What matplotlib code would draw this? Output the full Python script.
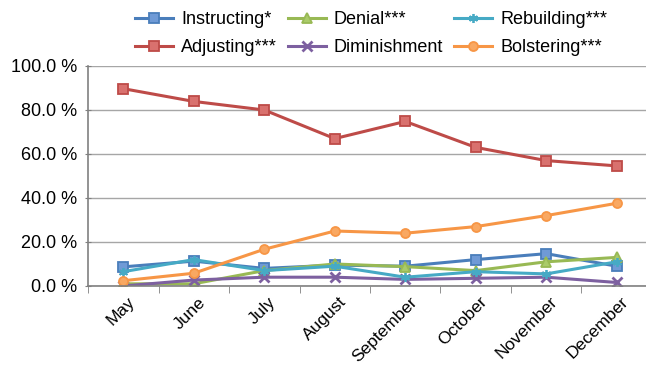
import matplotlib
matplotlib.use("Agg")
import matplotlib.pyplot as plt
import matplotlib.transforms as mtransforms
from matplotlib.ticker import FixedLocator, NullFormatter

plt.rcParams["font.family"] = ["Liberation Sans", "DejaVu Sans"]

# data (percent)
months = ["May", "June", "July", "August", "September", "October", "November", "December"]
instructing = [8.7, 11.3, 8.0, 9.5, 9.0, 12.0, 14.7, 9.0]
adjusting = [89.7, 83.9, 80.0, 67.0, 74.8, 63.0, 57.0, 54.6]
denial = [1.0, 1.0, 7.0, 10.0, 8.8, 7.0, 11.0, 13.0]
diminishment = [0.0, 2.7, 4.0, 4.0, 3.0, 3.5, 4.0, 1.6]
rebuilding = [6.5, 12.0, 7.0, 9.0, 4.0, 6.5, 5.5, 11.0]
bolstering = [2.4, 5.8, 16.7, 25.0, 24.0, 27.0, 32.0, 37.6]

# name, values, line colour, marker fill, marker
series = [
    ("Instructing*", instructing, "#4a7ebb", "#6f9ad6", "s"),
    ("Adjusting***", adjusting, "#be4b48", "#d9716e", "s"),
    ("Denial***", denial, "#98b954", "#aacb6a", "^"),
    ("Diminishment", diminishment, "#7d60a0", "#7d60a0", "x"),
    ("Rebuilding***", rebuilding, "#46aac5", "#46aac5", (6, 2, 0)),
    ("Bolstering***", bolstering, "#f79646", "#f9a862", "o"),
]

fig = plt.figure(figsize=(6.46, 3.68), dpi=100)
ax = fig.add_axes([88 / 646, 1 - 286 / 368, (652 - 88) / 646, 220 / 368])

x = list(range(len(months)))
for name, vals, color, fill, marker in series:
    ax.plot(x, vals, color=color, lw=2.2, marker=marker, ms=6.5,
            mfc=fill, mec=color, mew=1.3 if marker != "x" else 2, label=name)

ax.set_xlim(-0.5, len(months) - 0.5)
ax.set_ylim(0, 100)
ax.set_yticks([0, 20, 40, 60, 80, 100])
ax.set_yticklabels([f"{v:.1f} %" for v in [0, 20, 40, 60, 80, 100]], fontsize=13)
ax.yaxis.grid(True, color="#a6a6a6", lw=1)
ax.set_axisbelow(True)

# category labels at centres, ticks between categories
ax.set_xticks(x)
ax.set_xticklabels(months, rotation=45, ha="right", rotation_mode="anchor", fontsize=12.5)
ax.tick_params(axis="x", which="major", length=0, pad=6)
shift = mtransforms.ScaledTranslation(4 / 100, 0, fig.dpi_scale_trans)
for lbl in ax.get_xticklabels():
    lbl.set_transform(lbl.get_transform() + shift)
ax.xaxis.set_minor_locator(FixedLocator([i + 0.5 for i in range(-1, len(months))]))
ax.xaxis.set_minor_formatter(NullFormatter())
ax.tick_params(axis="x", which="minor", length=5, color="#808080", direction="out")
ax.tick_params(axis="y", length=5, color="#808080", direction="inout", pad=5.4)

for side in ["top", "right"]:
    ax.spines[side].set_visible(False)
for side in ["left", "bottom"]:
    ax.spines[side].set_color("#808080")
    ax.spines[side].set_linewidth(1.2)

handles, labels = ax.get_legend_handles_labels()
fig.legend(handles, labels, ncol=3, loc="upper center", bbox_to_anchor=(371 / 646, 1.0),
           frameon=False, fontsize=13, handlelength=2.1, columnspacing=0.6,
           handletextpad=0.45, labelspacing=0.62, borderaxespad=0.2)

fig.savefig("out.png", dpi=100)
